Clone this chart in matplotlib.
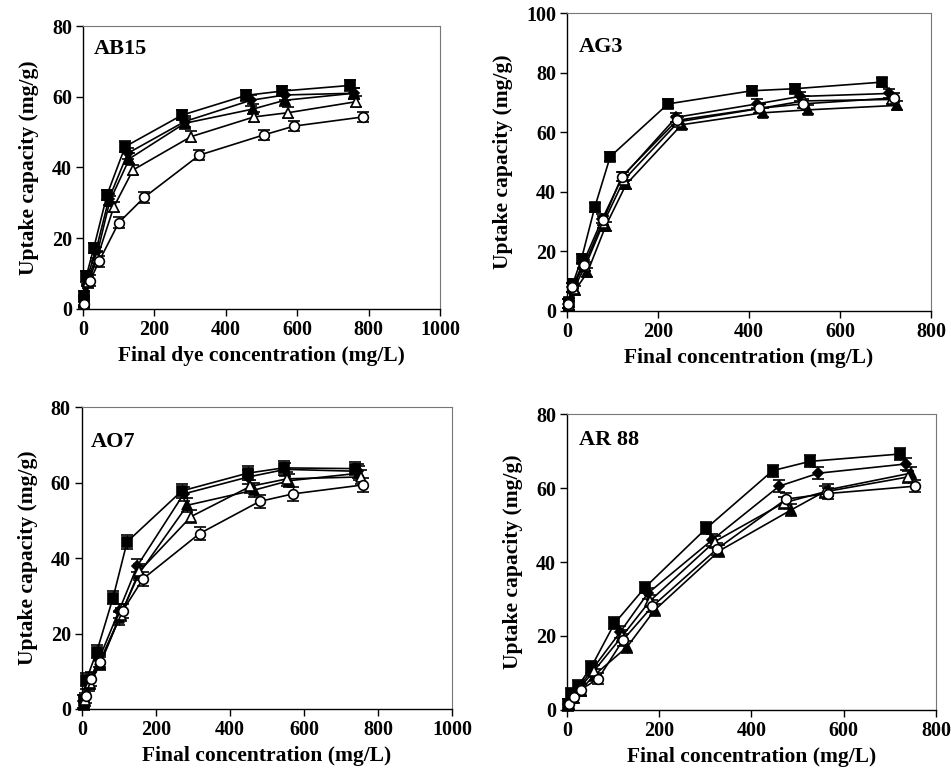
import matplotlib
matplotlib.use("Agg")
import matplotlib.pyplot as plt

plt.rcParams['font.family'] = ['Liberation Serif', 'DejaVu Serif']
plt.rcParams['font.weight'] = 'bold'

# ---------------- data ----------------
# AB15
ab15_sq_x = [4, 9, 30, 67, 118, 277, 457, 557, 748]
ab15_sq_y = [3.6, 9.2, 17.2, 32.2, 45.9, 54.8, 60.4, 61.6, 63.2]
ab15_di_x = [2, 10, 35, 72, 125, 285, 470, 565, 760]
ab15_di_y = [2.5, 8.5, 16, 31, 44, 53, 59, 60.5, 61]
ab15_tf_x = [2, 12, 38, 75, 130, 285, 475, 565, 760]
ab15_tf_y = [2, 8, 15, 30.5, 42.5, 52.5, 56.5, 59, 61]
ab15_to_x = [3, 15, 40, 86, 140, 302, 479, 575, 765]
ab15_to_y = [2, 7.5, 14.5, 28.8, 39.3, 48.7, 54.3, 55.5, 58.6]
ab15_ci_x = [3, 20, 45, 100, 172, 326, 506, 591, 785]
ab15_ci_y = [1.5, 8, 13.5, 24.4, 31.6, 43.5, 49.2, 51.7, 54.3]

# AG3
ag3_sq_x = [4, 13, 32, 61, 95, 222, 406, 501, 692]
ag3_sq_y = [3, 9.2, 17.6, 34.8, 51.8, 69.5, 73.9, 74.6, 76.8]
ag3_di_x = [3, 12, 35, 78, 122, 240, 418, 512, 708]
ag3_di_y = [2.5, 8, 16, 31, 45, 65, 69.5, 72, 73]
ag3_tf_x = [5, 18, 45, 85, 130, 252, 430, 530, 725]
ag3_tf_y = [2, 7, 13, 28.5, 42.5, 62.5, 66.5, 67.5, 69]
ag3_to_x = [4, 15, 40, 80, 125, 245, 425, 520, 715]
ag3_to_y = [2, 7.5, 15, 29.5, 44, 63.5, 68, 70.5, 71]
ag3_ci_x = [3, 12, 38, 80, 120, 242, 422, 518, 718]
ag3_ci_y = [2.5, 8, 15.5, 30.5, 45, 64, 68, 69.5, 71.5]

# AO7
ao7_sq_x = [6, 12, 40, 84, 122, 270, 448, 545, 739]
ao7_sq_y = [2, 7.8, 15.2, 29.5, 44.3, 57.8, 62.5, 63.9, 63.7]
ao7_di_x = [3, 18, 45, 100, 150, 275, 450, 550, 745]
ao7_di_y = [2, 7, 13, 26, 38, 57, 61.5, 63.5, 63]
ao7_tf_x = [5, 20, 50, 100, 155, 285, 465, 560, 750]
ao7_tf_y = [1.5, 6.5, 12, 24, 36, 54, 58, 60.5, 62.5]
ao7_to_x = [8, 22, 50, 105, 155, 295, 455, 555, 755]
ao7_to_y = [2.5, 7, 13, 25, 36.5, 51, 59, 61, 61.5]
ao7_ci_x = [10, 25, 50, 110, 165, 318, 480, 570, 761]
ao7_ci_y = [3.5, 8, 12.5, 26, 34.5, 46.5, 55, 57, 59.4]

# AR 88
ar88_sq_x = [2, 9, 24, 53, 103, 169, 302, 446, 527, 723]
ar88_sq_y = [1.4, 4.3, 6.5, 11.7, 23.4, 33.1, 49.1, 64.7, 67.2, 69.2]
ar88_di_x = [3, 10, 25, 55, 115, 175, 315, 460, 545, 735]
ar88_di_y = [1.5, 4, 6, 11, 21, 31.5, 46, 60.5, 64, 66.5]
ar88_tf_x = [5, 12, 30, 60, 130, 190, 330, 485, 565, 745]
ar88_tf_y = [1.5, 3.5, 5.5, 9.5, 17, 27, 43, 54, 59.5, 64]
ar88_to_x = [4, 12, 28, 58, 120, 180, 320, 470, 560, 740]
ar88_to_y = [1.5, 4, 6, 10.5, 20, 29.5, 45.5, 56, 59, 63]
ar88_ci_x = [5, 15, 30, 68, 122, 185, 325, 475, 565, 755]
ar88_ci_y = [1.5, 3.5, 5.5, 8.5, 19, 28, 43.5, 57, 58.5, 60.5]

# approximate error bar half-width per panel (mg/g)
err_ab15 = 1.5
err_ag3 = 1.5
err_ao7 = 1.8
err_ar88 = 1.6

# marker style per series: square, diamond, filled triangle, open triangle, open circle
styles = [
    dict(marker='s', mfc='black', ms=7.5),
    dict(marker='D', mfc='black', ms=5.5),
    dict(marker='^', mfc='black', ms=7.5),
    dict(marker='^', mfc='white', ms=7.5),
    dict(marker='o', mfc='white', ms=7),
]

panels = [
    dict(label='AB15', xlabel='Final dye concentration (mg/L)', xmax=1000, ymax=80,
         xticks=[0, 200, 400, 600, 800, 1000], yticks=[0, 20, 40, 60, 80],
         series=[(ab15_sq_x, ab15_sq_y), (ab15_di_x, ab15_di_y), (ab15_tf_x, ab15_tf_y),
                 (ab15_to_x, ab15_to_y), (ab15_ci_x, ab15_ci_y)],
         err=err_ab15, pos=[0.0873, 0.6008, 0.3754, 0.3656], lab=(0.03, 0.92)),
    dict(label='AG3', xlabel='Final concentration (mg/L)', xmax=800, ymax=100,
         xticks=[0, 200, 400, 600, 800], yticks=[0, 20, 40, 60, 80, 100],
         series=[(ag3_sq_x, ag3_sq_y), (ag3_di_x, ag3_di_y), (ag3_tf_x, ag3_tf_y),
                 (ag3_to_x, ag3_to_y), (ag3_ci_x, ag3_ci_y)],
         err=err_ag3, pos=[0.5962, 0.5982, 0.3828, 0.385], lab=(0.033, 0.886)),
    dict(label='AO7', xlabel='Final concentration (mg/L)', xmax=1000, ymax=80,
         xticks=[0, 200, 400, 600, 800, 1000], yticks=[0, 20, 40, 60, 80],
         series=[(ao7_sq_x, ao7_sq_y), (ao7_di_x, ao7_di_y), (ao7_tf_x, ao7_tf_y),
                 (ao7_to_x, ao7_to_y), (ao7_ci_x, ao7_ci_y)],
         err=err_ao7, pos=[0.0862, 0.084, 0.389, 0.390], lab=(0.024, 0.884)),
    dict(label='AR 88', xlabel='Final concentration (mg/L)', xmax=800, ymax=80,
         xticks=[0, 200, 400, 600, 800], yticks=[0, 20, 40, 60, 80],
         series=[(ar88_sq_x, ar88_sq_y), (ar88_di_x, ar88_di_y), (ar88_tf_x, ar88_tf_y),
                 (ar88_to_x, ar88_to_y), (ar88_ci_x, ar88_ci_y)],
         err=err_ar88, pos=[0.5962, 0.0827, 0.388, 0.3824], lab=(0.033, 0.912)),
]

fig = plt.figure(figsize=(9.51, 7.74), dpi=100)

for p in panels:
    ax = fig.add_axes(p['pos'])
    for (x, y), st in zip(p['series'], styles):
        ax.errorbar(x, y, yerr=p['err'], color='black', lw=1.2, mec='black', mew=1.2,
                    capsize=4, elinewidth=1.0, capthick=1.2, clip_on=False, zorder=3, **st)
    ax.set_xlim(0, p['xmax'])
    ax.set_ylim(0, p['ymax'])
    ax.set_xticks(p['xticks'])
    ax.set_yticks(p['yticks'])
    ax.tick_params(direction='out', length=5, width=1, labelsize=14.5, pad=3)
    for lbl in ax.get_xticklabels() + ax.get_yticklabels():
        lbl.set_fontweight('bold')
    for side in ['top', 'right']:
        ax.spines[side].set_color('#777777')
        ax.spines[side].set_linewidth(0.8)
    for side in ['left', 'bottom']:
        ax.spines[side].set_linewidth(1.0)
    ax.set_xlabel(p['xlabel'], fontsize=15.5, fontweight='bold', labelpad=4)
    ax.set_ylabel('Uptake capacity (mg/g)', fontsize=15.5, fontweight='bold', labelpad=9)
    ax.text(p['lab'][0], p['lab'][1], p['label'], transform=ax.transAxes,
            fontsize=16, fontweight='bold', ha='left', va='center')

fig.savefig('out.png', dpi=100)
